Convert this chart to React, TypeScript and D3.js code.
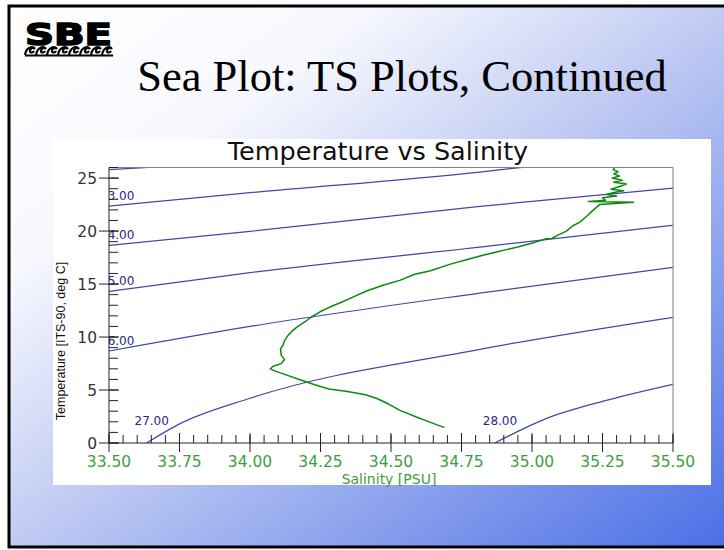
import React from "react";
import * as d3 from "d3";

// axis ticks
const salinityTicks = [33.5, 33.75, 34.0, 34.25, 34.5, 34.75, 35.0, 35.25, 35.5];
const temperatureTicks = [0, 5, 10, 15, 20, 25];

// sigma-t isopycnals, [salinity, temperature]
const sigma22 = [[33.5, 25.79], [33.61, 25.96], [33.7, 26.1]];
const sigma23 = [[33.5, 22.36], [34.0, 23.62], [34.815, 25.57], [34.94, 25.94], [35.0, 26.1]];
const sigma24 = [[33.5, 18.65], [34.0, 19.97], [34.815, 22.33], [35.5, 24.06]];
const sigma25 = [[33.5, 14.31], [34.0, 16.08], [34.815, 18.49], [35.5, 20.54]];
const sigma26 = [[33.5, 8.68], [34.0, 11.0], [34.815, 14.15], [35.5, 16.58]];
const sigma27 = [[33.633, 0], [33.747, 1.76], [34.0, 4.22], [34.815, 8.84], [35.5, 11.86]];
const sigma28 = [[34.868, 0], [35.05, 2.3], [35.26, 4.0], [35.5, 5.54]];
const sigmaLabels = ["22.00", "23.00", "24.00", "25.00", "26.00", "27.00", "28.00"];

// CTD cast, deep to surface, [salinity, temperature]
const tsProfile = [
  [34.69, 1.45], [34.64, 1.95], [34.59, 2.45], [34.53, 3.1], [34.49, 3.7],
  [34.45, 4.2], [34.41, 4.55], [34.34, 4.88], [34.28, 5.1], [34.23, 5.5],
  [34.18, 5.95], [34.12, 6.5], [34.09, 6.78], [34.072, 7.0], [34.082, 7.24],
  [34.11, 7.49], [34.123, 7.87], [34.111, 8.27], [34.108, 8.9], [34.117, 9.22],
  [34.123, 9.69], [34.135, 10.16], [34.152, 10.63], [34.17, 11.01], [34.194, 11.42],
  [34.218, 11.89], [34.247, 12.36], [34.283, 12.83], [34.318, 13.21], [34.365, 13.77],
  [34.413, 14.34], [34.472, 14.88], [34.531, 15.35], [34.584, 15.92], [34.637, 16.23],
  [34.708, 16.86], [34.767, 17.3], [34.826, 17.71], [34.874, 18.02], [34.909, 18.25],
  [34.95, 18.5], [34.992, 18.81], [35.051, 19.28], [35.07, 19.3], [35.09, 19.6],
  [35.122, 20.0], [35.145, 20.5], [35.17, 20.85], [35.19, 21.3], [35.216, 21.95],
  [35.24, 22.5], [35.36, 22.72], [35.2, 22.78], [35.26, 22.9], [35.25, 23.15],
  [35.3, 23.3], [35.265, 23.45], [35.29, 23.65], [35.325, 23.8], [35.28, 23.95],
  [35.31, 24.2], [35.335, 24.45], [35.29, 24.6], [35.32, 24.8], [35.285, 25.0],
  [35.31, 25.2], [35.29, 25.4], [35.305, 25.6], [35.288, 25.8], [35.3, 26.2],
];

const W = 724;
const H = 550;
const PLOT_LEFT = 109;
const PLOT_RIGHT = 673;
const PLOT_TOP = 167.5;
const PLOT_BOTTOM = 443;
const CHART_FONT = "'DejaVu Sans', Verdana, sans-serif";
const GREEN_TEXT = "#3d9e3d";
const CONTOUR = "#4646aa";

export default function App() {
  const x = d3.scaleLinear().domain([33.5, 35.5]).range([PLOT_LEFT, PLOT_RIGHT]);
  const y = d3.scaleLinear().domain([0, 26]).range([PLOT_BOTTOM, PLOT_TOP]);

  const contourLine = d3
    .line<number[]>()
    .x((d) => x(d[0]))
    .y((d) => y(d[1]))
    .curve(d3.curveMonotoneX);
  const profileLine = d3
    .line<number[]>()
    .x((d) => x(d[0]))
    .y((d) => y(d[1]));

  const isopycnals = [sigma22, sigma23, sigma24, sigma25, sigma26, sigma27, sigma28].map(
    (points, i) => ({ points, label: sigmaLabels[i] })
  );

  const minorX = x.ticks(40);
  const minorY = y.ticks(26);

  // little breaking-wave curls under the logo
  const waves = d3.range(8).map((i) => {
    const x0 = 25 + i * 11;
    return `M${x0},55 C${x0 + 1},48 ${x0 + 7},45 ${x0 + 10},49 C${x0 + 8},47 ${x0 + 5},48 ${x0 + 5},51 C${x0 + 5},53 ${x0 + 8},53 ${x0 + 9},51`;
  });

  return (
    <div style={{ position: "absolute", left: 0, top: 0 }}>
      <svg width={W} height={H} style={{ display: "block" }}>
        <defs>
          <linearGradient id="slideBg" x1="0" y1="0" x2="1" y2="1">
            <stop offset="0" stopColor="#ffffff" />
            <stop offset="0.25" stopColor="#f7f8fe" />
            <stop offset="0.5" stopColor="#c0cbf3" />
            <stop offset="1" stopColor="#4a6ee6" />
          </linearGradient>
          <clipPath id="plotClip">
            <rect x={PLOT_LEFT} y={PLOT_TOP} width={PLOT_RIGHT - PLOT_LEFT} height={PLOT_BOTTOM - PLOT_TOP} />
          </clipPath>
        </defs>

        <rect x={0} y={0} width={W} height={H} fill="#ffffff" />
        <rect x={9} y={6} width={724} height={541} fill="url(#slideBg)" stroke="#000" strokeWidth={3} />

        {/* logo */}
        <text
          x={25}
          y={45}
          fontFamily="'DejaVu Sans', Arial, sans-serif"
          fontWeight="bold"
          fontSize={31}
          textLength={87}
          lengthAdjust="spacingAndGlyphs"
          fill="#000"
          stroke="#000"
          strokeWidth={1.6}
        >
          SBE
        </text>
        <g fill="none" stroke="#000" strokeWidth={2.2}>
          {waves.map((d, i) => (
            <path key={i} d={d} />
          ))}
          <line x1={25} x2={113} y1={55.5} y2={55.5} />
        </g>

        <text
          x={402}
          y={91}
          textAnchor="middle"
          fontFamily="'Liberation Serif', 'Times New Roman', serif"
          fontSize={44.5}
          fill="#000"
        >
          Sea Plot: TS Plots, Continued
        </text>

        {/* chart panel */}
        <rect x={53} y={139} width={658} height={346} fill="#ffffff" />
        <text x={378} y={160} textAnchor="middle" fontFamily={CHART_FONT} fontSize={25.5} fill="#111">
          Temperature vs Salinity
        </text>

        <g clipPath="url(#plotClip)">
          {isopycnals.map((c) => (
            <path key={c.label} d={contourLine(c.points) ?? ""} fill="none" stroke={CONTOUR} strokeWidth={1.2} />
          ))}
          {isopycnals.map((c) => {
            const [s0, t0] = c.points[0];
            const atBottom = t0 === 0;
            return (
              <text
                key={c.label}
                x={atBottom ? x(s0) - 12 : x(33.5) - 9}
                y={atBottom ? y(0) - 18 : y(t0) - 6}
                fontFamily={CHART_FONT}
                fontSize={12}
                fill="#26268c"
              >
                {c.label}
              </text>
            );
          })}
          <path d={profileLine(tsProfile) ?? ""} fill="none" stroke="#0b8a0b" strokeWidth={1.5} strokeLinejoin="round" />
        </g>

        {/* frame */}
        <line x1={PLOT_LEFT} x2={PLOT_RIGHT} y1={PLOT_TOP} y2={PLOT_TOP} stroke="#808080" />
        <line x1={PLOT_RIGHT} x2={PLOT_RIGHT} y1={PLOT_TOP} y2={PLOT_BOTTOM} stroke="#808080" />

        {/* y axis */}
        <g stroke="#222" strokeWidth={1}>
          <line x1={PLOT_LEFT} x2={PLOT_LEFT} y1={PLOT_TOP} y2={PLOT_BOTTOM} />
          {minorY.map((t) => (
            <line key={t} x1={PLOT_LEFT} x2={PLOT_LEFT + 9} y1={y(t)} y2={y(t)} />
          ))}
          {temperatureTicks.map((t) => (
            <line key={t} x1={PLOT_LEFT - 10} x2={PLOT_LEFT + 10} y1={y(t)} y2={y(t)} />
          ))}
        </g>
        <g fontFamily={CHART_FONT} fontSize={15.5} fill="#333" textAnchor="end">
          {temperatureTicks.map((t) => (
            <text key={t} x={PLOT_LEFT - 12} y={y(t)} dy="0.36em">
              {t}
            </text>
          ))}
        </g>
        <text
          transform={`translate(65,341) rotate(-90)`}
          textAnchor="middle"
          fontFamily="'Liberation Sans', Arial, sans-serif"
          fontSize={12.5}
          fill="#111"
        >
          Temperature [ITS-90, deg C]
        </text>

        {/* x axis */}
        <g stroke="#222" strokeWidth={1}>
          <line x1={PLOT_LEFT} x2={PLOT_RIGHT} y1={PLOT_BOTTOM} y2={PLOT_BOTTOM} />
          {minorX.map((s) => (
            <line key={s} x1={x(s)} x2={x(s)} y1={PLOT_BOTTOM - 8} y2={PLOT_BOTTOM} />
          ))}
          {salinityTicks.map((s) => (
            <line key={s} x1={x(s)} x2={x(s)} y1={PLOT_BOTTOM - 10} y2={PLOT_BOTTOM + 9} />
          ))}
        </g>
        <g fontFamily={CHART_FONT} fontSize={15.5} fill={GREEN_TEXT} textAnchor="middle">
          {salinityTicks.map((s) => (
            <text key={s} x={x(s)} y={466.5}>
              {d3.format(".2f")(s)}
            </text>
          ))}
        </g>
        <text x={389} y={484} textAnchor="middle" fontFamily={CHART_FONT} fontSize={14} fill={GREEN_TEXT}>
          Salinity [PSU]
        </text>
      </svg>
    </div>
  );
}
